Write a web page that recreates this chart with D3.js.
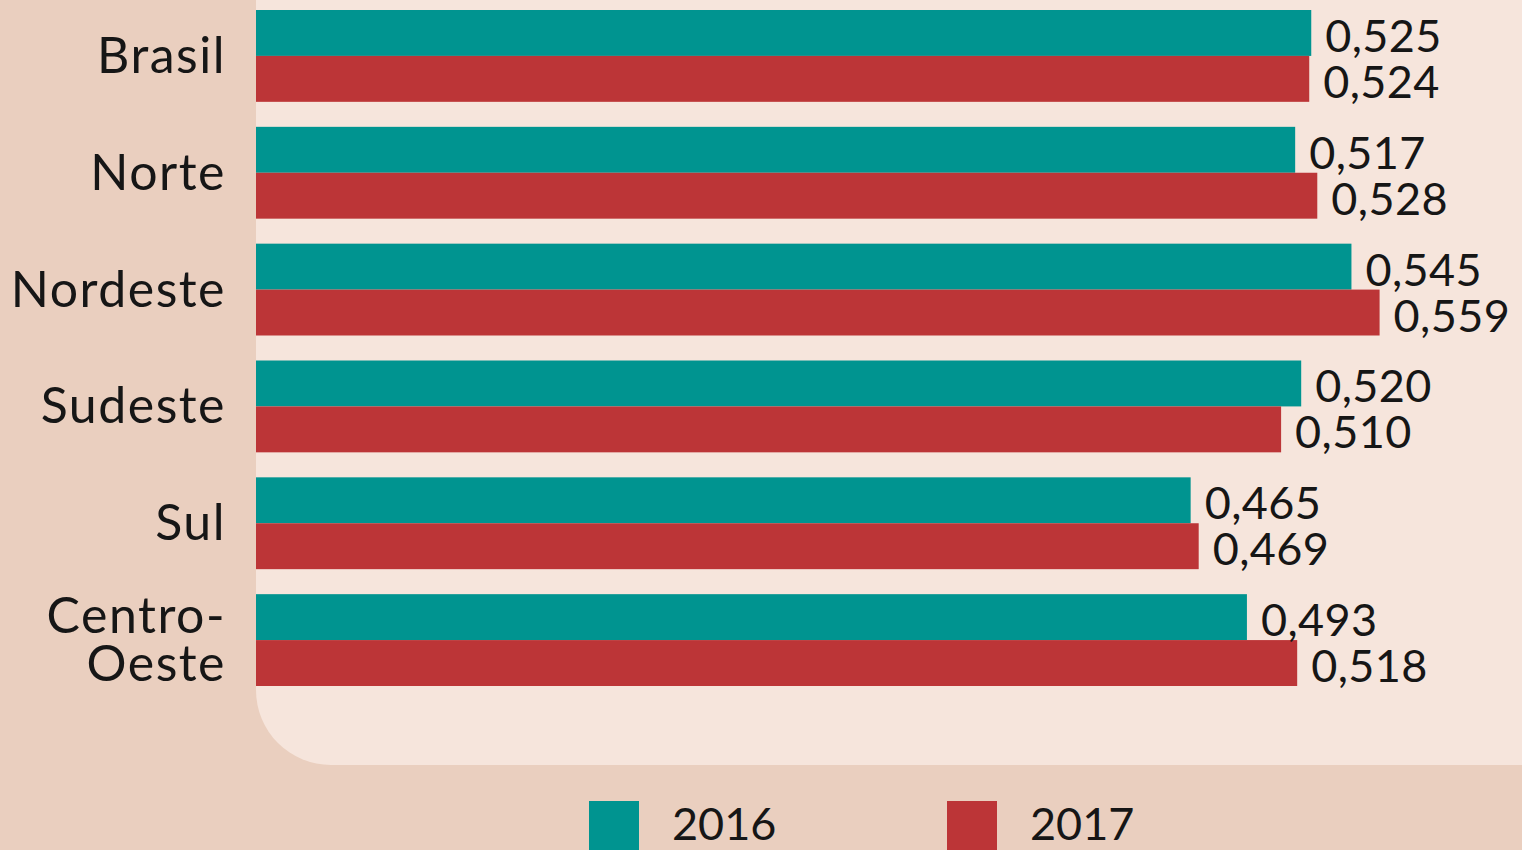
<!DOCTYPE html>
<html>
<head>
<meta charset="utf-8">
<script src="https://cdn.jsdelivr.net/npm/d3@7"></script>
<style>
  html, body { margin: 0; padding: 0; background: #EACFBF; }
  svg { display: block; }
  text { font-family: Lato, "Noto Sans", sans-serif; fill: #161616; }
</style>
</head>
<body>
<svg id="chart" width="1522" height="850"></svg>
<script>
// valores
const regions = ['Brasil', 'Norte', 'Nordeste', 'Sudeste', 'Sul', 'Centro-Oeste']
const regionLines = [['Brasil'], ['Norte'], ['Nordeste'], ['Sudeste'], ['Sul'], ['Centro-', 'Oeste']]
const years = ['2016', '2017']
const values2016 = [0.525, 0.517, 0.545, 0.520, 0.465, 0.493]
const values2017 = [0.524, 0.528, 0.559, 0.510, 0.469, 0.518]

const colors = { 2016: '#009490', 2017: '#BC3537' }

const width = 1522
const left = 256

const svg = d3.select('#chart')

// painel claro com canto inferior esquerdo arredondado
const r = 75
const panelBottom = 765
svg.append('path')
  .attr('d', 'M' + left + ',0 H' + width + ' V' + panelBottom + ' H' + (left + r) +
    ' A' + r + ',' + r + ' 0 0 1 ' + left + ',' + (panelBottom - r) + ' Z')
  .attr('fill', '#F6E5DC')

const data = regions.map((region, i) => ({
  Region: region,
  Lines: regionLines[i],
  Values: [
    { Year: '2016', Value: values2016[i] },
    { Year: '2017', Value: values2017[i] }
  ]
}))

const x = d3.scaleLinear()
  .domain([0, 0.6])
  .range([left, left + 0.6 * 2010])

const y = d3.scaleBand()
  .domain(regions)
  .range([10, 686])
  .paddingInner(0.214)
  .paddingOuter(0)

const ySub = d3.scaleBand()
  .domain(years)
  .range([0, y.bandwidth()])

const fmt = (v) => d3.format('.3f')(v).replace('.', ',')

const groups = svg.selectAll('.group')
  .data(data)
  .join('g')
  .attr('class', 'group')
  .attr('transform', (d) => 'translate(0,' + y(d.Region) + ')')

groups.selectAll('rect')
  .data((d) => d.Values)
  .join('rect')
  .attr('x', x(0))
  .attr('y', (d) => ySub(d.Year))
  .attr('width', (d) => x(d.Value) - x(0))
  .attr('height', ySub.bandwidth())
  .attr('fill', (d) => colors[d.Year])

groups.selectAll('.value')
  .data((d) => d.Values)
  .join('text')
  .attr('class', 'value')
  .attr('x', (d) => x(d.Value) + 14)
  .attr('y', (d) => ySub(d.Year) + ySub.bandwidth() / 2 + 19)
  .attr('font-size', 45)
  .attr('letter-spacing', 0.4)
  .text((d) => fmt(d.Value))

// rótulos das regiões
groups.append('text')
  .attr('class', 'label')
  .attr('text-anchor', 'end')
  .attr('font-size', 50)
  .attr('letter-spacing', 1.5)
  .selectAll('tspan')
  .data((d) => d.Lines.map((line, i) => ({ line, i, n: d.Lines.length })))
  .join('tspan')
  .attr('x', 226)
  .attr('y', (d) => y.bandwidth() / 2 + 17 + (d.i - (d.n - 1) / 2) * 48)
  .text((d) => d.line)

// legenda
const legend = svg.append('g')
  .selectAll('g')
  .data(years)
  .join('g')
  .attr('transform', (d, i) => 'translate(' + (589 + i * 358) + ',801)')

legend.append('rect')
  .attr('width', 50)
  .attr('height', 60)
  .attr('fill', (d) => colors[d])

legend.append('text')
  .attr('x', 83)
  .attr('y', 39)
  .attr('font-size', 45)
  .text((d) => d)
</script>
</body>
</html>
